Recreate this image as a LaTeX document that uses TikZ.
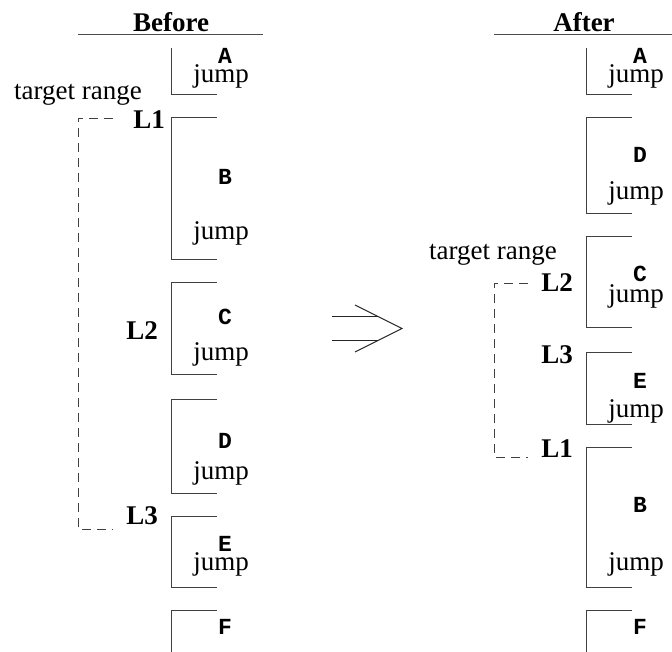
\documentclass[tikz,border=0pt]{standalone}
\usepackage{fontspec}
\setmainfont{Liberation Serif}
\setmonofont{Liberation Mono}

\newcommand\txtsize{\fontsize{27}{29}\selectfont}
\newcommand\ttsize{\fontsize{23}{25}\selectfont}

\begin{document}
\begin{tikzpicture}[
    x=1pt, y=-1pt,
    heading/.style={font=\txtsize\bfseries, anchor=base},
    lname/.style={font=\txtsize\bfseries, anchor=base east, inner sep=0pt},
    blockname/.style={font=\ttsize\ttfamily\bfseries, anchor=base, inner sep=0pt},
    plain/.style={font=\txtsize, anchor=base, inner sep=0pt},
    bracket/.style={line width=1pt, black!75},
    rangeline/.style={line width=0.8pt, black!75, dash pattern=on 9pt off 6pt},
    headrule/.style={line width=1pt, black!70}
  ]
  \useasboundingbox (0,0) rectangle (672,652);

  % --- left column: original order
  \node [heading] (before) at (171,32) {Before};
  \draw [headrule] (78,35) -- (263,35);

  \draw [bracket] (171,48) |- (217,95);
  \node [blockname] (la) at (225,64) {A};
  \node [plain] (laj) at (221,83) {jump};

  \draw [bracket] (217,118) -| (171,260) -- (217,260);
  \node [blockname] (lb) at (225,185) {B};
  \node [plain] (lbj) at (221,240) {jump};

  \draw [bracket] (217,283) -| (171,374) -- (217,374);
  \node [blockname] (lc) at (225,325) {C};
  \node [plain] (lcj) at (221,360) {jump};

  \draw [bracket] (217,399) -| (171,493) -- (217,493);
  \node [blockname] (ld) at (225,448) {D};
  \node [plain] (ldj) at (221,479) {jump};

  \draw [bracket] (217,516) -| (171,587) -- (217,587);
  \node [blockname] (le) at (225,551) {E};
  \node [plain] (lej) at (221,570) {jump};

  \draw [bracket] (217,610) -| (171,652);
  \node [blockname] (lf) at (225,634) {F};

  \node [lname] (ll1) at (165,129) {L1};
  \node [lname] (ll2) at (158,340) {L2};
  \node [lname] (ll3) at (158,524) {L3};

  \node [plain] (lrange) at (78,100) {target range};
  \coordinate (lrt) at (113,118);
  \coordinate (lrb) at (113,529);
  \draw [rangeline] (lrt) -- (78,118) -- (78,529) -- (lrb);

  % --- the arrow in the middle
  \coordinate (ar1) at (332,317);
  \coordinate (ar2) at (332,340);
  \coordinate (tip) at (402,328.5);
  \draw [bracket, black!85] (ar1) -- ++(46,0);
  \draw [bracket, black!85] (ar2) -- ++(46,0);
  \draw [bracket, black!85] (355,305) -- (tip) -- (355,352);

  % --- right column: reordered
  \node [heading] (after) at (584,32) {After};
  \draw [headrule] (494,35) -- (672,35);

  \draw [bracket] (586,48) |- (632,95);
  \node [blockname] (ra) at (640,64) {A};
  \node [plain] (raj) at (636,83) {jump};

  \draw [bracket] (632,118) -| (586,214) -- (632,214);
  \node [blockname] (rd) at (640,163) {D};
  \node [plain] (rdj) at (636,200) {jump};

  \draw [bracket] (632,237) -| (586,328) -- (632,328);
  \node [blockname] (rc) at (640,282) {C};
  \node [plain] (rcj) at (636,302) {jump};

  \draw [bracket] (632,352) -| (586,424) -- (632,424);
  \node [blockname] (re) at (640,388) {E};
  \node [plain] (rej) at (636,417) {jump};

  \draw [bracket] (632,447) -| (586,587) -- (632,587);
  \node [blockname] (rb) at (640,512) {B};
  \node [plain] (rbj) at (636,570) {jump};

  \draw [bracket] (632,610) -| (586,652);
  \node [blockname] (rf) at (640,634) {F};

  \node [lname] (rl2) at (573,292) {L2};
  \node [lname] (rl3) at (573,363) {L3};
  \node [lname] (rl1) at (573,457) {L1};

  \node [plain] (rrange) at (493,260) {target range};
  \coordinate (rrt) at (528,283);
  \coordinate (rrb) at (528,457);
  \draw [rangeline] (rrt) -- (494,283) -- (494,457) -- (rrb);
\end{tikzpicture}
\end{document}
